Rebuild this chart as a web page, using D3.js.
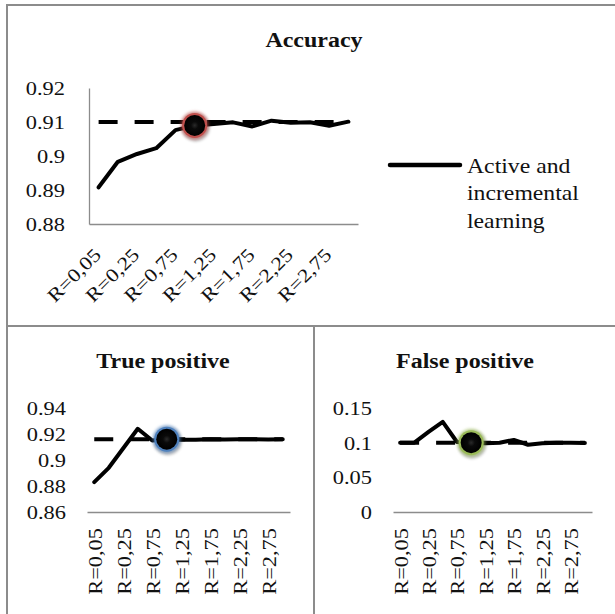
<!DOCTYPE html>
<html>
<head>
<meta charset="utf-8">
<script src="https://cdn.jsdelivr.net/npm/d3@7"></script>
<style>
  body { margin: 0; background: #fff; }
</style>
</head>
<body>
<div id="chart"></div>
<script>
const categories = ["R=0,05", "R=0,1", "R=0,25", "R=0,5", "R=0,75", "R=1", "R=1,25",
    "R=1,5", "R=1,75", "R=2", "R=2,25", "R=2,5", "R=2,75", "R=3"];
const shownLabels = ["R=0,05", "R=0,25", "R=0,75", "R=1,25", "R=1,75", "R=2,25", "R=2,75"];

const accuracy = [0.8908, 0.8983, 0.9006, 0.9023, 0.9076, 0.9090, 0.9094,
    0.9099, 0.9087, 0.9104, 0.9098, 0.9099, 0.9089, 0.9101];
const truePositive = [0.883, 0.894, 0.909, 0.924, 0.915, 0.916, 0.9155,
    0.9155, 0.916, 0.9158, 0.916, 0.916, 0.9157, 0.916];
const falsePositive = [0.100, 0.100, 0.1155, 0.130, 0.101, 0.100, 0.099,
    0.100, 0.104, 0.097, 0.099, 0.100, 0.100, 0.0995];

const accuracyRef = 0.91;
const truePositiveRef = 0.916;
const falsePositiveRef = 0.1;
const highlightIndex = 5;

const accuracyTicks = [0.88, 0.89, 0.9, 0.91, 0.92];
const truePositiveTicks = [0.86, 0.88, 0.9, 0.92, 0.94];
const falsePositiveTicks = [0, 0.05, 0.1, 0.15];

const font = "'Liberation Serif', 'Times New Roman', serif";
const sx = 1.18;
const frameColor = "#8c8c8c";

const svg = d3.select("#chart").append("svg")
    .attr("width", 615)
    .attr("height", 614);

svg.append("rect").attr("width", 615).attr("height", 614).attr("fill", "#fff");

const defs = svg.append("defs");
const glow = defs.append("filter").attr("id", "glow")
    .attr("x", "-50%").attr("y", "-50%").attr("width", "200%").attr("height", "200%");
glow.append("feGaussianBlur").attr("stdDeviation", 1.6);
const core = defs.append("radialGradient").attr("id", "core");
core.append("stop").attr("offset", "0%").attr("stop-color", "#2a2a2a");
core.append("stop").attr("offset", "35%").attr("stop-color", "#0a0a0a");
core.append("stop").attr("offset", "100%").attr("stop-color", "#000");

// frames
svg.append("rect").attr("x", 7).attr("y", 5).attr("width", 620).attr("height", 321)
    .attr("fill", "none").attr("stroke", frameColor).attr("stroke-width", 2);
svg.append("rect").attr("x", 7).attr("y", 326).attr("width", 307).attr("height", 300)
    .attr("fill", "none").attr("stroke", frameColor).attr("stroke-width", 2);
svg.append("rect").attr("x", 314).attr("y", 326).attr("width", 320).attr("height", 300)
    .attr("fill", "none").attr("stroke", frameColor).attr("stroke-width", 2);

function panel(p) {
    const x = d3.scalePoint().domain(categories).range([p.x0, p.x1]).padding(0.5);
    const y = d3.scaleLinear().domain(p.domain).range([p.y0, p.y1]);

    svg.append("g")
        .attr("transform", `translate(${p.titleX},${p.titleY})`)
        .append("text")
        .attr("transform", `scale(1.2,1)`)
        .attr("text-anchor", "middle")
        .attr("font-family", font)
        .attr("font-weight", "bold")
        .attr("font-size", 20)
        .attr("fill", "#111")
        .text(p.title);

    const xAxis = svg.append("g")
        .attr("transform", `translate(0,${p.y0})`)
        .call(d3.axisBottom(x).tickValues(shownLabels).tickSize(0).tickSizeOuter(0))
        .attr("font-family", font)
        .attr("font-size", 19);
    xAxis.select(".domain").attr("stroke", frameColor).attr("stroke-width", 1.3);
    xAxis.selectAll("text")
        .attr("x", null).attr("y", null).attr("dy", null)
        .attr("fill", "#111")
        .attr("text-anchor", "end")
        .attr("transform", p.xLabel);

    const yAxis = svg.append("g")
        .attr("transform", `translate(${p.x0},0)`)
        .call(d3.axisLeft(y).tickValues(p.ticks).tickSize(0).tickSizeOuter(0).tickFormat(d => String(d)))
        .attr("font-family", font)
        .attr("font-size", 19);
    if (p.yLine) {
        yAxis.select(".domain").attr("stroke", frameColor).attr("stroke-width", 1.3);
    } else {
        yAxis.select(".domain").remove();
    }
    yAxis.selectAll("text")
        .attr("x", null).attr("dy", "0.34em")
        .attr("fill", "#111")
        .attr("text-anchor", "end")
        .attr("transform", `translate(${-p.yGap},0) scale(${sx},1)`);

    svg.append("line")
        .attr("x1", x(categories[0]))
        .attr("x2", x(categories[categories.length - 1]))
        .attr("y1", y(p.ref))
        .attr("y2", y(p.ref))
        .attr("stroke", "#000")
        .attr("stroke-width", 4)
        .attr("stroke-dasharray", "19,17");

    const line = d3.line()
        .x((d, i) => x(categories[i]))
        .y(d => y(d));

    svg.append("path")
        .datum(p.values)
        .attr("fill", "none")
        .attr("stroke", "#000")
        .attr("stroke-width", 4)
        .attr("stroke-linejoin", "round")
        .attr("stroke-linecap", "round")
        .attr("d", line);

    // highlighted point
    const cx = x(categories[highlightIndex]);
    const cy = y(p.values[highlightIndex]);
    svg.append("circle")
        .attr("cx", cx + 1).attr("cy", cy + 2).attr("r", 14)
        .attr("fill", "#000").attr("opacity", 0.25).attr("filter", "url(#glow)");
    svg.append("circle")
        .attr("cx", cx).attr("cy", cy).attr("r", 14)
        .attr("fill", p.ring).attr("opacity", 0.6).attr("filter", "url(#glow)");
    svg.append("circle")
        .attr("cx", cx).attr("cy", cy).attr("r", 12.5)
        .attr("fill", p.ring);
    svg.append("circle")
        .attr("cx", cx).attr("cy", cy).attr("r", 10.5)
        .attr("fill", "url(#core)");
}

panel({
    title: "Accuracy", titleX: 314, titleY: 47,
    x0: 89, x1: 358, y0: 224, y1: 88,
    domain: [0.88, 0.92], ticks: accuracyTicks,
    values: accuracy, ref: accuracyRef, ring: "#c0504d",
    yLine: true, yGap: 24,
    xLabel: `translate(3,32) rotate(-45) scale(${sx},1)`
});

panel({
    title: "True positive", titleX: 163, titleY: 368,
    x0: 87, x1: 290, y0: 512, y1: 408,
    domain: [0.86, 0.94], ticks: truePositiveTicks,
    values: truePositive, ref: truePositiveRef, ring: "#4f81bd",
    yLine: false, yGap: 21,
    xLabel: `translate(7,16) rotate(-90) scale(${sx},1)`
});

panel({
    title: "False positive", titleX: 465, titleY: 368,
    x0: 393, x1: 592, y0: 512, y1: 408,
    domain: [0, 0.15], ticks: falsePositiveTicks,
    values: falsePositive, ref: falsePositiveRef, ring: "#9bbb59",
    yLine: false, yGap: 21,
    xLabel: `translate(7,16) rotate(-90) scale(${sx},1)`
});

// legend of the accuracy chart
const legend = svg.append("g").attr("transform", "translate(390,165)");
legend.append("line")
    .attr("x1", 0).attr("x2", 70)
    .attr("stroke", "#000").attr("stroke-width", 4.5).attr("stroke-linecap", "round");
const legendText = legend.append("text")
    .attr("transform", `translate(77,0) scale(1.13,1)`)
    .attr("font-family", font)
    .attr("font-size", 21)
    .attr("fill", "#111");
["Active and", "incremental", "learning"].forEach((s, i) => {
    legendText.append("tspan").attr("x", 0).attr("y", 8 + i * 27.5).text(s);
});
</script>
</body>
</html>
